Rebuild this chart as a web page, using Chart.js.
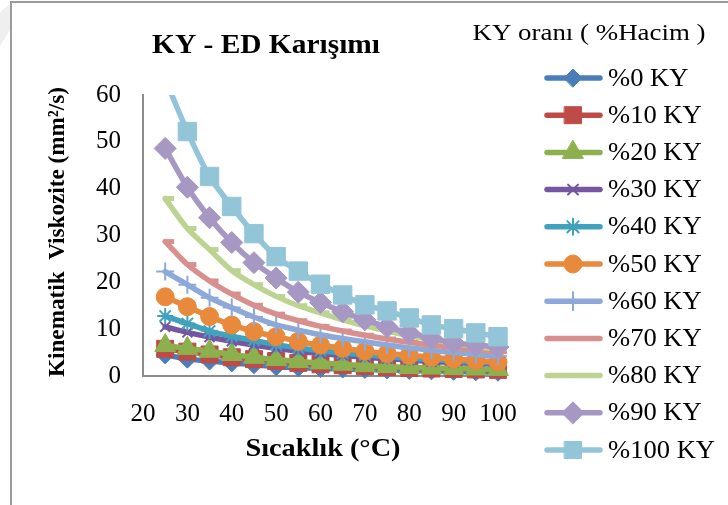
<!DOCTYPE html>
<html>
<head>
<meta charset="utf-8">
<script src="https://cdn.jsdelivr.net/npm/chart.js@4/dist/chart.umd.min.js"></script>
<style>
  html, body { margin: 0; padding: 0; background: #fff; }
  #wrap { width: 728px; height: 505px; position: relative; }
</style>
</head>
<body>
<div id="wrap"><canvas id="c" width="728" height="505"></canvas></div>
<script>
// Temperatures (°C) at which viscosity was measured
const temperatures = [25, 30, 35, 40, 45, 50, 55, 60, 65, 70, 75, 80, 85, 90, 95, 100];

// Kinematic viscosity (mm²/s) for each KY volume share
const ky0   = [4.5, 3.6, 3.2, 2.8, 2.4, 2.0, 1.8, 1.6, 1.5, 1.4, 1.3, 1.2, 1.1, 1.0, 0.9, 0.8];
const ky10  = [5.8, 5.2, 4.6, 4.0, 3.6, 3.2, 2.8, 2.5, 2.3, 2.1, 1.9, 1.7, 1.6, 1.5, 1.4, 1.3];
const ky20  = [6.5, 5.9, 5.3, 4.6, 4.0, 3.5, 3.1, 2.8, 2.5, 2.2, 2.0, 1.8, 1.7, 1.6, 1.5, 1.4];
const ky30  = [10.5, 9.3, 8.3, 7.4, 6.6, 5.9, 5.3, 4.8, 4.4, 4.0, 3.7, 3.4, 3.1, 2.9, 2.7, 2.5];
const ky40  = [12.8, 11.2, 9.6, 8.5, 7.6, 6.7, 6.0, 5.4, 4.9, 4.5, 4.1, 3.8, 3.5, 3.2, 3.0, 2.8];
const ky50  = [16.9, 14.8, 12.7, 10.9, 9.5, 8.4, 7.4, 6.6, 5.9, 5.3, 4.8, 4.4, 4.0, 3.6, 3.3, 3.0];
const ky60  = [22.3, 19.5, 16.7, 14.6, 12.6, 10.9, 9.8, 8.8, 8.0, 7.3, 6.6, 6.0, 5.5, 5.0, 4.6, 4.2];
const ky70  = [28.7, 23.8, 20.3, 17.5, 15.1, 13.2, 11.8, 10.6, 9.6, 8.7, 7.9, 7.2, 6.6, 6.1, 5.6, 5.2];
const ky80  = [37.9, 31.5, 27.0, 22.5, 19.5, 17.0, 15.0, 13.5, 12.0, 10.7, 9.6, 8.6, 7.8, 7.0, 6.3, 5.8];
const ky90  = [48.6, 40.3, 33.8, 28.5, 24.2, 20.9, 17.9, 15.7, 13.7, 12.0, 10.5, 9.2, 8.1, 7.1, 6.6, 6.2];
const ky100 = [63.4, 52.2, 42.6, 36.2, 30.4, 25.5, 22.4, 19.6, 17.3, 15.2, 13.9, 12.4, 10.9, 10.1, 9.2, 8.4];

const seriesLabels = ['%0 KY', '%10 KY', '%20 KY', '%30 KY', '%40 KY', '%50 KY',
                      '%60 KY', '%70 KY', '%80 KY', '%90 KY', '%100 KY'];
const seriesValues = [ky0, ky10, ky20, ky30, ky40, ky50, ky60, ky70, ky80, ky90, ky100];

const chartTitle  = 'KY - ED Karışımı';
const legendTitle = 'KY oranı ( %Hacim )';
const xTitle = 'Sıcaklık (°C)';
const yTitle = 'Kinematik  Viskozite (mm²/s)';

// Per-series appearance: colour, marker shape, marker size, marker outline width
const styles = [
  { color: '#4A7EBB', shape: 'rectRot',  r: 9,  bw: 1 },
  { color: '#BE4B48', shape: 'rect',     r: 12, bw: 1 },
  { color: '#8DB04F', shape: 'triangle', r: 12, bw: 1 },
  { color: '#7457A0', shape: 'crossRot', r: 7,  bw: 2 },
  { color: '#41A2BE', shape: 'star',     r: 8,  bw: 2 },
  { color: '#E8893C', shape: 'circle',   r: 9,  bw: 1 },
  { color: '#8CA9D9', shape: 'cross',    r: 9,  bw: 2 },
  { color: '#D8908E', shape: 'dash',     r: 9,  bw: 5 },
  { color: '#BCD392', shape: 'dash',     r: 9,  bw: 5 },
  { color: '#A797C3', shape: 'rectRot',  r: 11, bw: 1 },
  { color: '#92C5D8', shape: 'rect',     r: 13, bw: 1 }
];

const FONT = '"Liberation Serif", "Times New Roman", serif';

const datasets = seriesValues.map((vals, i) => ({
  label: seriesLabels[i],
  data: temperatures.map((t, k) => ({ x: t, y: vals[k] })),
  showLine: true,
  borderColor: styles[i].color,
  backgroundColor: styles[i].color,
  borderWidth: 5.5,
  borderCapStyle: 'round',
  borderJoinStyle: 'round',
  tension: 0.25,
  pointStyle: styles[i].shape,
  pointRadius: styles[i].r,
  pointHoverRadius: styles[i].r,
  pointBackgroundColor: styles[i].color,
  pointBorderColor: styles[i].color,
  pointBorderWidth: styles[i].bw,
  order: seriesValues.length - i,
  clip: { left: 20, right: 20, top: 0, bottom: 20 }
}));

// Draws text in the given font, widened horizontally so it spans `width` pixels.
// align: 'center' -> x is the centre, 'left' -> x is the left edge.
function wideText(ctx, text, x, y, font, width, align) {
  ctx.save();
  ctx.font = font;
  ctx.textBaseline = 'middle';
  ctx.textAlign = 'left';
  const natural = ctx.measureText(text).width;
  const k = width / natural;
  const left = align === 'center' ? x - width / 2 : x;
  ctx.translate(left, y);
  ctx.scale(k, 1);
  ctx.fillText(text, 0, 0);
  ctx.restore();
}

// Background, frame, titles and the right-hand legend
const decorations = {
  id: 'decorations',
  beforeDraw(chart) {
    const ctx = chart.ctx;
    ctx.save();
    ctx.fillStyle = '#fff';
    ctx.fillRect(0, 0, chart.width, chart.height);
    ctx.fillStyle = '#efefef';
    ctx.beginPath();
    ctx.moveTo(0, 12); ctx.lineTo(10, 4); ctx.lineTo(10, 30); ctx.lineTo(0, 46);
    ctx.closePath(); ctx.fill();
    ctx.strokeStyle = '#9b9b9b';
    ctx.lineWidth = 2;
    ctx.beginPath();
    ctx.moveTo(11, chart.height); ctx.lineTo(11, 2); ctx.lineTo(chart.width, 2);
    ctx.stroke();
    ctx.restore();
  },
  afterDraw(chart) {
    const ctx = chart.ctx;
    ctx.save();
    ctx.fillStyle = '#000';
    wideText(ctx, chartTitle, 266, 46, 'bold 27px ' + FONT, 228, 'center');
    wideText(ctx, legendTitle, 589, 34, '24px ' + FONT, 233, 'center');
    wideText(ctx, xTitle, 323, 450, 'bold 25px ' + FONT, 155, 'center');
    ctx.save();
    ctx.translate(58, 232);
    ctx.rotate(-Math.PI / 2);
    wideText(ctx, yTitle, 0, 0, 'bold 23px ' + FONT, 290, 'center');
    ctx.restore();

    // legend text scale taken from the widest entry
    ctx.font = '25px ' + FONT;
    const legendK = 107 / ctx.measureText('%100 KY').width;

    chart.data.datasets.forEach((ds, i) => {
      const y = 78 + i * 37.2;
      ctx.strokeStyle = ds.borderColor;
      ctx.lineWidth = 5.5;
      ctx.lineCap = 'round';
      ctx.beginPath();
      ctx.moveTo(547, y); ctx.lineTo(600, y);
      ctx.stroke();
      ctx.fillStyle = ds.pointBackgroundColor;
      ctx.strokeStyle = ds.pointBorderColor;
      ctx.lineWidth = ds.pointBorderWidth;
      Chart.helpers.drawPoint(ctx, {
        pointStyle: ds.pointStyle,
        radius: Math.min(ds.pointRadius, 12),
        rotation: 0,
        borderWidth: ds.pointBorderWidth
      }, 573, y);
      ctx.fillStyle = '#000';
      ctx.font = '25px ' + FONT;
      const w = ctx.measureText(ds.label).width * legendK;
      wideText(ctx, ds.label, 608, y + 1, '25px ' + FONT, w, 'left');
    });
    ctx.restore();
  }
};

new Chart(document.getElementById('c'), {
  type: 'scatter',
  data: { datasets },
  plugins: [decorations],
  options: {
    responsive: false,
    animation: false,
    devicePixelRatio: 1,
    layout: { padding: { left: 0, top: 95, right: 230, bottom: 0 } },
    plugins: {
      legend: { display: false },
      title: { display: false },
      tooltip: { enabled: false }
    },
    scales: {
      x: {
        type: 'linear',
        min: 20, max: 100,
        afterFit: s => { s.height = 129; },
        grid: { display: false, drawTicks: false },
        border: { display: true, color: '#8c8c8c', width: 2 },
        ticks: { stepSize: 10, padding: 23, color: '#000', font: { family: FONT, size: 25 } }
      },
      y: {
        type: 'linear',
        min: 0, max: 60,
        afterFit: s => { s.width = 143; },
        grid: { display: false, drawTicks: false },
        border: { display: true, color: '#8c8c8c', width: 2 },
        ticks: { stepSize: 10, padding: 22, color: '#000', font: { family: FONT, size: 25 } }
      }
    }
  }
});
</script>
</body>
</html>
